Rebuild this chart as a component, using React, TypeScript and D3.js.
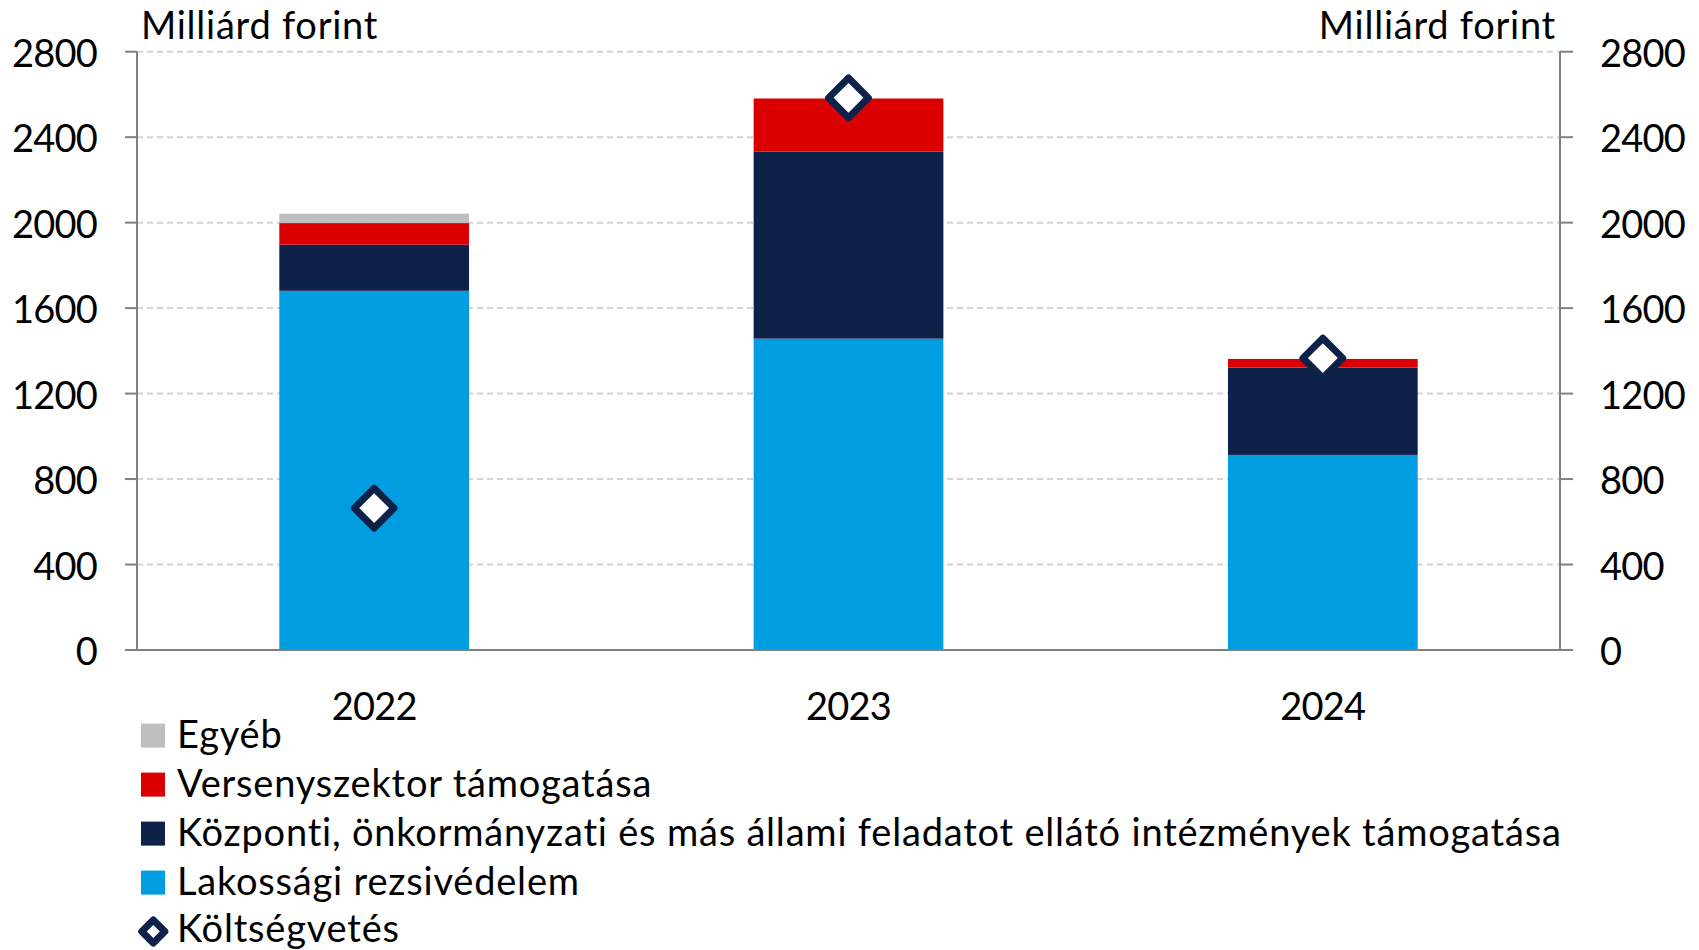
import React, { useEffect } from "react";
import * as d3 from "d3";

const years = ["2022", "2023", "2024"];
const lakossagi = [1681, 1457, 913];
const kozponti = [216, 876, 409];
const versenyszektor = [101, 248, 40];
const egyeb = [44, 0, 0];
const koltsegvetes = [664, 2584, 1366];
const yTicks = [0, 400, 800, 1200, 1600, 2000, 2400, 2800];

const seriesKeys = ["lak", "koz", "ver", "egy"];
const seriesNames: Record<string, string> = {
  egy: "Egyéb",
  ver: "Versenyszektor támogatása",
  koz: "Központi, önkormányzati és más állami feladatot ellátó intézmények támogatása",
  lak: "Lakossági rezsivédelem",
};
const colors: Record<string, string> = {
  lak: "#009EE0",
  koz: "#0E2148",
  ver: "#DA0000",
  egy: "#BFBFBF",
};
const legendOrder = ["egy", "ver", "koz", "lak"];
const diamondName = "Költségvetés";

const W = 1699;
const H = 950;
const left = 137;
const right = 1560;
const top = 51.7;
const bottom = 650;
const FONT = "Lato, 'Noto Sans', sans-serif";
const FS = 38;

export default function App() {
  useEffect(() => {
    document.body.style.margin = "0";
  }, []);

  const rows = years.map((y, i) => ({
    year: y,
    lak: lakossagi[i],
    koz: kozponti[i],
    ver: versenyszektor[i],
    egy: egyeb[i],
  }));
  const stacked = d3.stack<any>().keys(seriesKeys)(rows);

  const x = d3.scaleBand<string>().domain(years).range([left, right]).paddingInner(0.6).paddingOuter(0.3);
  const y = d3.scaleLinear().domain([0, 2800]).range([bottom, top]);
  const diamond = d3.symbol().type(d3.symbolSquare).size(790)();
  const legendDiamond = d3.symbol().type(d3.symbolSquare).size(265)();

  return (
    <svg width={W} height={H} style={{ display: "block", background: "#fff" }} fontFamily={FONT}>
      {/* gridlines */}
      {yTicks.filter((t) => t > 0).map((t) => (
        <line key={t} x1={left} x2={right} y1={y(t)} y2={y(t)} stroke="#D4D4D4" strokeWidth={2} strokeDasharray="6 4" />
      ))}
      {/* bars */}
      {stacked.map((s) => (
        <g key={s.key} fill={colors[s.key]}>
          {s.map((d, i) =>
            d[1] - d[0] > 0 ? (
              <rect key={i} x={x(years[i])} width={x.bandwidth()} y={y(d[1])} height={y(d[0]) - y(d[1])} />
            ) : null
          )}
        </g>
      ))}
      {/* axes */}
      <line x1={left} x2={left} y1={top} y2={bottom} stroke="#808080" strokeWidth={2} />
      <line x1={right} x2={right} y1={top} y2={bottom} stroke="#808080" strokeWidth={2} />
      <line x1={left - 12} x2={right + 13} y1={bottom} y2={bottom} stroke="#808080" strokeWidth={2} />
      {yTicks.map((t) => (
        <g key={t}>
          <line x1={left - 12} x2={left} y1={y(t)} y2={y(t)} stroke="#808080" strokeWidth={2} />
          <line x1={right} x2={right + 13} y1={y(t)} y2={y(t)} stroke="#808080" strokeWidth={2} />
          <text x={97} y={y(t)} textAnchor="end" dominantBaseline="central" fontSize={FS} letterSpacing={-0.8} fill="#000">
            {t}
          </text>
          <text x={1600} y={y(t)} textAnchor="start" dominantBaseline="central" fontSize={FS} letterSpacing={-0.8} fill="#000">
            {t}
          </text>
        </g>
      ))}
      <text x={141} y={39} fontSize={FS} letterSpacing={0.75} fill="#000">Milliárd forint</text>
      <text x={1556} y={39} fontSize={FS} letterSpacing={0.75} textAnchor="end" fill="#000">Milliárd forint</text>
      {/* x labels */}
      {years.map((yr) => (
        <text key={yr} x={(x(yr) as number) + x.bandwidth() / 2} y={720} textAnchor="middle" fontSize={FS} letterSpacing={-0.8} fill="#000">
          {yr}
        </text>
      ))}
      {/* diamonds */}
      {koltsegvetes.map((v, i) => (
        <path
          key={i}
          d={diamond as string}
          transform={`translate(${(x(years[i]) as number) + x.bandwidth() / 2},${y(v)}) rotate(45)`}
          fill="#fff"
          stroke="#0E2148"
          strokeWidth={7}
          strokeLinejoin="round"
        />
      ))}
      {/* legend */}
      {legendOrder.map((k, i) => {
        const base = 747.6 + i * 49;
        return (
          <g key={k}>
            <rect x={141} y={base - 24} width={24} height={24} fill={colors[k]} />
            <text x={177} y={base} fontSize={FS} letterSpacing={0.8} fill="#000">
              {seriesNames[k]}
            </text>
          </g>
        );
      })}
      <path
        d={legendDiamond as string}
        transform={`translate(153.3,931.5) rotate(45)`}
        fill="#fff"
        stroke="#0E2148"
        strokeWidth={7}
        strokeLinejoin="round"
      />
      <text x={177} y={942} fontSize={FS} letterSpacing={0.8} fill="#000">
        {diamondName}
      </text>
    </svg>
  );
}
